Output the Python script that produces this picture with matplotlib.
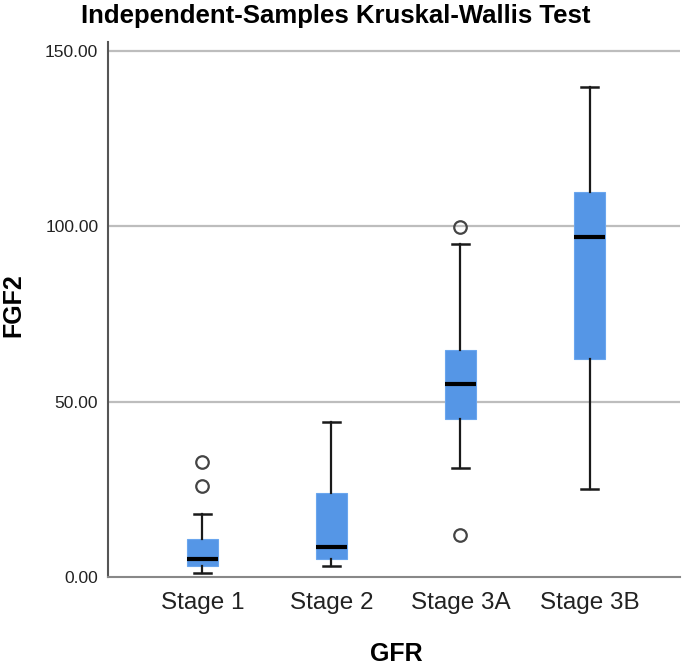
import matplotlib
matplotlib.use('Agg')
import matplotlib.pyplot as plt

# values
stages = ['Stage 1', 'Stage 2', 'Stage 3A', 'Stage 3B']
whislo = [1.0, 3.1, 31.0, 25.0]
q1 = [3.2, 5.1, 45.1, 62.1]
med = [5.1, 8.6, 54.9, 96.9]
q3 = [10.7, 23.9, 64.7, 109.8]
whishi = [18.0, 44.2, 94.9, 139.7]
fliers = [[25.9, 32.9], [], [12.0, 99.9], []]

plt.rcParams['font.family'] = ['Liberation Sans', 'DejaVu Sans']

fig = plt.figure(figsize=(6.85, 6.65), dpi=100)
ax = fig.add_axes([108/685, 88/665, 572/685, 535/665])

stats = []
for i in range(len(stages)):
    stats.append({'label': stages[i], 'whislo': whislo[i], 'q1': q1[i], 'med': med[i],
                  'q3': q3[i], 'whishi': whishi[i], 'fliers': fliers[i]})

ax.bxp(stats, positions=range(len(stages)), widths=0.24, patch_artist=True,
       boxprops=dict(facecolor='#5596e6', edgecolor='#6aa6ee', linewidth=0.8),
       medianprops=dict(color='black', linewidth=3),
       whiskerprops=dict(color='#1a1a1a', linewidth=1.6),
       capprops=dict(color='#1a1a1a', linewidth=1.8),
       capwidths=0.13,
       flierprops=dict(marker='o', markerfacecolor='none', markeredgecolor='#444444',
                       markersize=9, markeredgewidth=1.6),
       zorder=3)

ax.set_xlim(-0.73, 3.7)
ax.set_ylim(0, 152.5)
ax.set_yticks([0, 50, 100, 150])
ax.set_yticklabels(['0.00', '50.00', '100.00', '150.00'], fontsize=12.5, color='#222222')
ax.set_xticks(range(len(stages)))
ax.set_xticklabels(stages, fontsize=17.5, color='#222222')
ax.tick_params(axis='x', length=0, pad=11)
ax.tick_params(axis='y', length=0, pad=7)

for y in [50, 100, 150]:
    ax.axhline(y, color='#bdbdbd', linewidth=1.6, zorder=1)

ax.spines['top'].set_visible(False)
ax.spines['right'].set_visible(False)
ax.spines['left'].set_color('#555555')
ax.spines['left'].set_linewidth(1.5)
ax.spines['bottom'].set_color('#888888')
ax.spines['bottom'].set_linewidth(1.5)

fig.text(13/685, 1 - 305/665, 'FGF2', rotation=90, fontsize=18, fontweight='bold',
         ha='center', va='center')
fig.text(396/685, 1 - 654/665, 'GFR', fontsize=18, fontweight='bold', ha='center', va='center')
fig.text(336/685, 1 - 16/665, 'Independent-Samples Kruskal-Wallis Test', fontsize=18.5,
         fontweight='bold', ha='center', va='center')

fig.savefig('out.png', dpi=100)
